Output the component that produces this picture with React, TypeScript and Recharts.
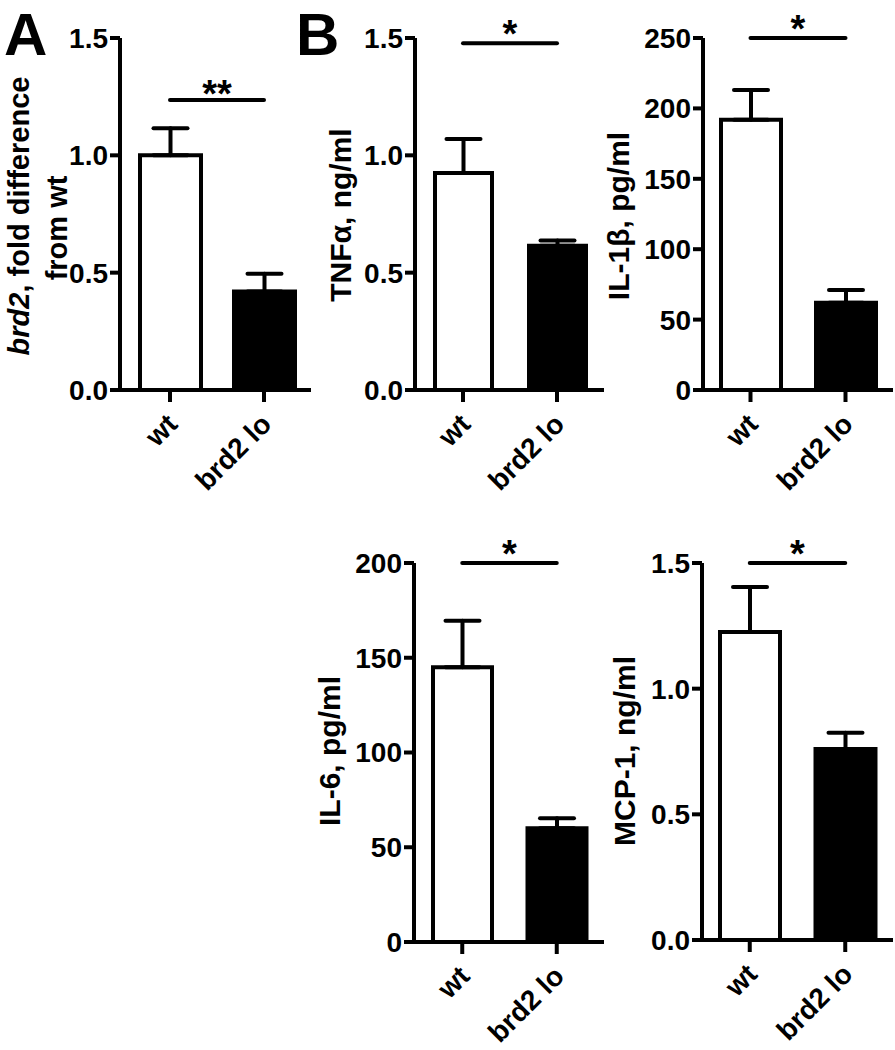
import { BarChart, Bar, XAxis, YAxis, ErrorBar, Cell, ReferenceLine } from 'recharts';

const FONT = '"Liberation Sans", Arial, sans-serif';

// groups and bar fills
const groups = ['wt', 'brd2 lo'];
const barFills = ['#ffffff', '#000000'];

// means and SEM
const brd2Fold = [1.0, 0.42];
const brd2FoldSem = [0.115, 0.075];
const tnfAlpha = [0.925, 0.615];
const tnfAlphaSem = [0.145, 0.022];
const il1Beta = [192, 62];
const il1BetaSem = [21, 9];
const il6 = [145, 60];
const il6Sem = [24.5, 5.3];
const mcp1 = [1.225, 0.76];
const mcp1Sem = [0.18, 0.065];

// axis ticks
const ticksFold = [0, 0.5, 1.0, 1.5];
const ticksIl1b = [0, 50, 100, 150, 200, 250];
const ticksIl6 = [0, 50, 100, 150, 200];

// significance brackets
const sigLevels = [1.236, 1.478, 250, 200, 1.5];
const sigMarks = ['**', '*', '*', '*', '*'];

function buildRows(means: number[], sems: number[]) {
    return groups.map((g, i) => ({ group: g, mean: means[i], err: [0, sems[i]] }));
}

function XTick(props: any) {
    const { x, y, payload } = props;
    return (
        <text
            transform={`translate(${x + 9},${y + 22}) rotate(-45)`}
            textAnchor="end"
            fontSize={28}
            fontWeight="bold"
            fontFamily={FONT}
            fill="#000"
        >
            {payload.value}
        </text>
    );
}

type Seg = { t: string; it?: boolean };

function YTitle({ lines, xs, cys, size }: { lines: Seg[][]; xs: number[]; cys: number[]; size: number }) {
    return (
        <g>
            {lines.map((segs, i) => (
                <text
                    key={i}
                    transform={`translate(${xs[i]},${cys[i]}) rotate(-90)`}
                    textAnchor="middle"
                    fontSize={size}
                    fontWeight="bold"
                    fontFamily={FONT}
                    fill="#000"
                >
                    {segs.map((s, j) => (
                        <tspan key={j} fontStyle={s.it ? 'italic' : 'normal'}>{s.t}</tspan>
                    ))}
                </text>
            ))}
        </g>
    );
}

function StarLabel(props: any) {
    const { viewBox, text, dy } = props;
    if (!viewBox) return null;
    return (
        <text
            x={viewBox.x + viewBox.width / 2}
            y={viewBox.y + dy}
            textAnchor="middle"
            fontSize={38}
            fontWeight="bold"
            fontFamily={FONT}
            fill="#000"
        >
            {text}
        </text>
    );
}

interface PanelProps {
    left: number;
    top: number;
    width: number;
    height: number;
    plotTop: number;
    yAxisWidth: number;
    xAxisHeight: number;
    rightMargin: number;
    padLeft: number;
    barSize: number;
    means: number[];
    sems: number[];
    ticks: number[];
    decimals: number;
    sigY: number;
    sigText: string;
    starDy: number;
    title: Seg[][];
    titleXs: number[];
    titleCys: number[];
    titleSize: number;
}

function Panel(p: PanelProps) {
    const data = buildRows(p.means, p.sems);
    const max = p.ticks[p.ticks.length - 1];
    return (
        <div style={{ position: 'absolute', left: p.left, top: p.top }}>
            <BarChart
                width={p.width}
                height={p.height}
                data={data}
                margin={{ top: p.plotTop, right: p.rightMargin, bottom: 0, left: 0 }}
                barCategoryGap={0}
            >
                <XAxis
                    dataKey="group"
                    height={p.xAxisHeight}
                    padding={{ left: p.padLeft, right: 0 }}
                    axisLine={{ stroke: '#000', strokeWidth: 4 }}
                    tickLine={{ stroke: '#000', strokeWidth: 4 }}
                    tickSize={12}
                    tick={<XTick />}
                    interval={0}
                />
                <YAxis
                    width={p.yAxisWidth}
                    domain={[0, max]}
                    ticks={p.ticks}
                    allowDataOverflow
                    axisLine={{ stroke: '#000', strokeWidth: 4 }}
                    tickLine={{ stroke: '#000', strokeWidth: 4 }}
                    tickSize={10}
                    tickMargin={2}
                    tickFormatter={(v: number) => v.toFixed(p.decimals)}
                    tick={{ fill: '#000', fontSize: 28, fontWeight: 'bold', fontFamily: FONT }}
                    label={<YTitle lines={p.title} xs={p.titleXs} cys={p.titleCys} size={p.titleSize} />}
                />
                <ReferenceLine
                    segment={[{ x: groups[0], y: p.sigY }, { x: groups[1], y: p.sigY }]}
                    stroke="#000"
                    strokeWidth={4}
                    strokeLinecap="round"
                    ifOverflow="visible"
                    label={<StarLabel text={p.sigText} dy={p.starDy} />}
                />
                <Bar
                    dataKey="mean"
                    barSize={p.barSize}
                    stroke="#000"
                    strokeWidth={4}
                    isAnimationActive={false}
                >
                    {data.map((d, i) => (
                        <Cell key={d.group} fill={barFills[i]} />
                    ))}
                    <ErrorBar
                        dataKey="err"
                        direction="y"
                        width={17}
                        stroke="#000"
                        strokeWidth={4}
                        strokeLinecap="round"
                        isAnimationActive={false}
                    />
                </Bar>
            </BarChart>
        </div>
    );
}

export default function App() {
    return (
        <div style={{ position: 'absolute', left: 0, top: 0, width: 895, height: 1050, background: '#fff', overflow: 'hidden' }}>
            <svg width={895} height={1050} style={{ position: 'absolute', left: 0, top: 0 }}>
                <text x={4} y={55} fontSize={60} fontWeight="bold" fontFamily={FONT}>A</text>
                <text x={296} y={55} fontSize={60} fontWeight="bold" fontFamily={FONT}>B</text>
            </svg>
            <Panel
                left={0} top={0} width={320} height={520}
                plotTop={38} yAxisWidth={120} xAxisHeight={130} rightMargin={9} padLeft={3}
                barSize={61} means={brd2Fold} sems={brd2FoldSem} ticks={ticksFold} decimals={1}
                sigY={sigLevels[0]} sigText={sigMarks[0]} starDy={7}
                title={[[{ t: 'brd2', it: true }, { t: ', fold difference' }], [{ t: 'from wt' }]]}
                titleXs={[29, 67]} titleCys={[216, 228]} titleSize={29}
            />
            <Panel
                left={300} top={0} width={310} height={520}
                plotTop={38} yAxisWidth={115} xAxisHeight={130} rightMargin={6} padLeft={1}
                barSize={57} means={tnfAlpha} sems={tnfAlphaSem} ticks={ticksFold} decimals={1}
                sigY={sigLevels[1]} sigText={sigMarks[1]} starDy={4}
                title={[[{ t: 'TNFα, ng/ml' }]]}
                titleXs={[51]} titleCys={[215]} titleSize={30}
            />
            <Panel
                left={590} top={0} width={305} height={520}
                plotTop={38} yAxisWidth={113} xAxisHeight={130} rightMargin={2} padLeft={0}
                barSize={60} means={il1Beta} sems={il1BetaSem} ticks={ticksIl1b} decimals={0}
                sigY={sigLevels[2]} sigText={sigMarks[2]} starDy={4}
                title={[[{ t: 'IL-1β, pg/ml' }]]}
                titleXs={[39]} titleCys={[216]} titleSize={30}
            />
            <Panel
                left={300} top={525} width={310} height={525}
                plotTop={38} yAxisWidth={114} xAxisHeight={108} rightMargin={6} padLeft={1}
                barSize={59} means={il6} sems={il6Sem} ticks={ticksIl6} decimals={0}
                sigY={sigLevels[3]} sigText={sigMarks[3]} starDy={4}
                title={[[{ t: 'IL-6, pg/ml' }]]}
                titleXs={[40]} titleCys={[226]} titleSize={30}
            />
            <Panel
                left={590} top={525} width={305} height={525}
                plotTop={38} yAxisWidth={112} xAxisHeight={110} rightMargin={2} padLeft={0}
                barSize={60} means={mcp1} sems={mcp1Sem} ticks={ticksFold} decimals={1}
                sigY={sigLevels[4]} sigText={sigMarks[4]} starDy={4}
                title={[[{ t: 'MCP-1, ng/ml' }]]}
                titleXs={[45]} titleCys={[226]} titleSize={30}
            />
        </div>
    );
}
